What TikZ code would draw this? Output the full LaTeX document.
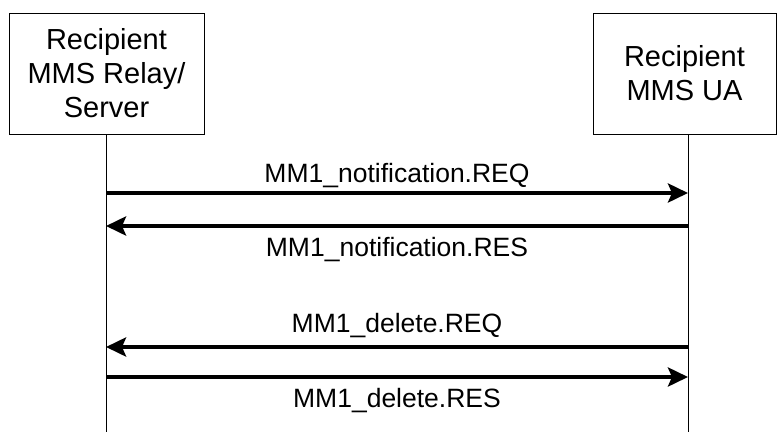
\documentclass[tikz,border=0pt]{standalone}
\usepackage{fontspec}
\setmainfont{Liberation Sans}
\usetikzlibrary{arrows.meta}

\tikzset{
    actor/.style={draw, line width=1pt, inner sep=0pt, align=center, minimum height=121pt,
        font=\fontsize{29}{34}\selectfont},
    msg/.style={line width=4pt, -{Stealth[length=20pt, width=19pt, inset=4pt]}},
    lbl/.style={anchor=base, inner sep=0pt, font=\fontsize{26.5}{30}\selectfont},
}

\begin{document}
\begin{tikzpicture}[x=1pt, y=-1pt]
    \useasboundingbox (0,0) rectangle (777,432);

    \node[actor, minimum width=195pt] (relay) at (106.5, 73.5) {Recipient\\MMS Relay/\\Server};
    \node[actor, minimum width=183pt] (ua) at (684.5, 73.5) {Recipient\\MMS UA};

    \coordinate (relayTop) at (106, 134);
    \coordinate (relayEnd) at (106, 432);
    \coordinate (uaTop) at (688, 134);
    \coordinate (uaEnd) at (688, 432);

    \coordinate (r1) at (106, 193);
    \coordinate (u1) at (688, 193);
    \coordinate (r2) at (106, 226);
    \coordinate (u2) at (688, 226);
    \coordinate (r3) at (106, 347);
    \coordinate (u3) at (688, 347);
    \coordinate (r4) at (106, 377);
    \coordinate (u4) at (688, 377);

    \draw[line width=1pt] (relayTop) -- (relayEnd);
    \draw[line width=1pt] (uaTop) -- (uaEnd);

    \begin{scope}[every path/.style={msg}]
       \draw (r1) -- node [lbl, yshift=11pt] {MM1\_notification.REQ} (u1);
       \draw (u2) -- node [lbl, yshift=-30pt] {MM1\_notification.RES} (r2);
       \draw (u3) -- node [lbl, yshift=15pt] {MM1\_delete.REQ} (r3);
       \draw (r4) -- node [lbl, yshift=-30pt] {MM1\_delete.RES} (u4);
    \end{scope}
\end{tikzpicture}
\end{document}
